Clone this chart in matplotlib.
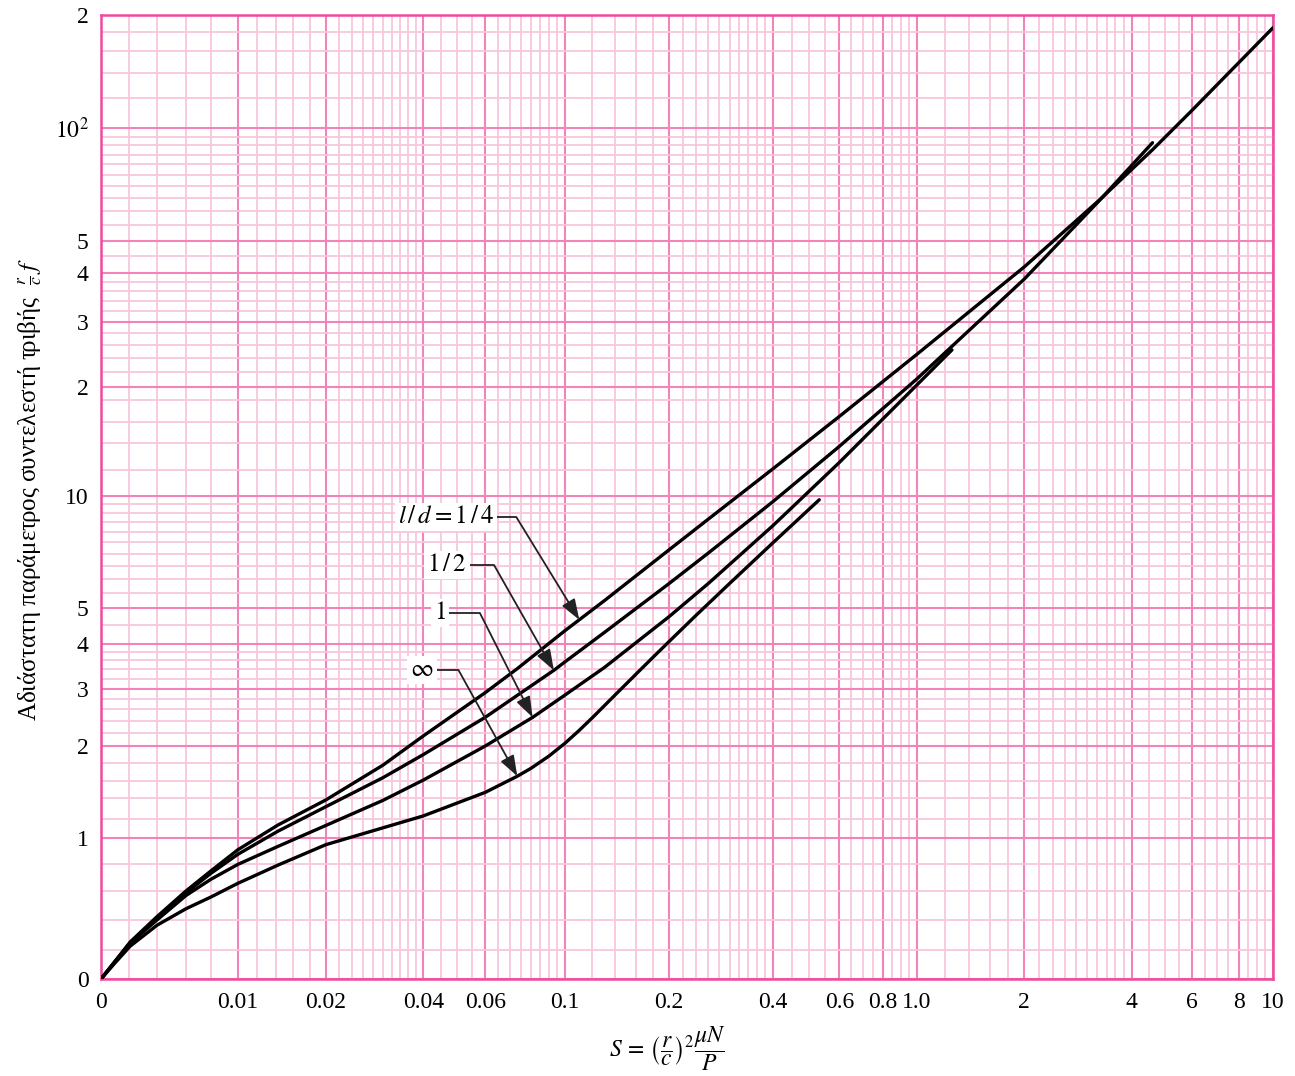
import numpy as np
import matplotlib
matplotlib.use("Agg")
import matplotlib.pyplot as plt

plt.rcParams["font.family"] = ["Liberation Serif", "DejaVu Serif"]
plt.rcParams["mathtext.fontset"] = "stix"

# Sommerfeld number S and friction variable (r/c) f along each l/d curve
s_quarter = [0, 0.0009, 0.00207, 0.004, 0.006, 0.008, 0.01, 0.0142, 0.02, 0.03, 0.04,
             0.06, 0.0736, 0.1, 0.13, 0.2, 0.261, 0.4, 0.6, 1.0, 2.0, 3.25, 4.6, 6.0, 10.0]
f_quarter = [0, 0.11, 0.247, 0.42, 0.598, 0.744, 0.905, 1.133, 1.384, 1.777, 2.15,
             2.93, 3.42, 4.34, 5.24, 7.16, 8.67, 12.07, 16.46, 24.5, 41.8, 64.3, 87.6,
             111.6, 185]

s_half = [0, 0.0009, 0.00207, 0.004, 0.006, 0.008, 0.01, 0.0142, 0.02, 0.03, 0.04,
          0.06, 0.093, 0.1, 0.13, 0.2, 0.261, 0.4, 0.6, 1.0, 2.0, 3.25, 4.6]
f_half = [0, 0.11, 0.243, 0.41, 0.583, 0.725, 0.87, 1.069, 1.316, 1.635, 1.898,
          2.457, 3.38, 3.565, 4.29, 5.82, 7.04, 9.62, 13.75, 21.04, 38.66, 64.1, 91.5]

s_one = [0, 0.0009, 0.00207, 0.004, 0.006, 0.008, 0.01, 0.0142, 0.02, 0.03, 0.04,
         0.06, 0.081, 0.1, 0.13, 0.2, 0.261, 0.4, 0.6, 1.0, 1.255]
f_one = [0, 0.108, 0.24, 0.40, 0.563, 0.68, 0.796, 0.932, 1.13, 1.378, 1.61,
         2.0, 2.455, 2.88, 3.44, 4.74, 5.84, 8.3, 12.53, 20.27, 25.2]

s_inf = [0, 0.0009, 0.00207, 0.004, 0.006, 0.008, 0.01, 0.0142, 0.02, 0.03, 0.04,
         0.06, 0.0735, 0.08, 0.09, 0.1, 0.11, 0.12, 0.14, 0.16, 0.18, 0.2, 0.24, 0.3,
         0.4, 0.531]
f_inf = [0, 0.1, 0.222, 0.36, 0.47, 0.552, 0.65, 0.79, 0.947, 1.104, 1.228,
         1.466, 1.652, 1.739, 1.88, 2.04, 2.238, 2.449, 2.889, 3.29, 3.673, 4.048,
         4.789, 5.827, 7.47, 9.74]

curve_labels = [r"$l\,/\,d = 1\,/\,4$", r"$1\,/\,2$", r"$1$", r"$\infty$"]
arrow_at_s = [0.11, 0.093, 0.081, 0.0735]

# Tick values and their printed labels
x_major = [0, 0.01, 0.02, 0.04, 0.06, 0.1, 0.2, 0.4, 0.6, 0.8, 1.0, 2, 4, 6, 8, 10]
x_major_labels = ["0", "0.01", "0.02", "0.04", "0.06", "0.1", "0.2", "0.4", "0.6",
                  "0.8", "1.0", "2", "4", "6", "8", "10"]
y_major = [0, 1, 2, 3, 4, 5, 10, 20, 30, 40, 50, 100, 200]
y_major_labels = ["0", "1", "2", "3", "4", "5", "10", "2", "3", "4", "5", r"$10^2$", "2"]


# ---- chart-paper scale: nearly linear close to zero, logarithmic further out ----
def _interp_ext(v, xp, fp):
    v = np.asarray(v, dtype=float)
    out = np.interp(v, xp, fp)
    lo_slope = (fp[1] - fp[0]) / (xp[1] - xp[0])
    hi_slope = (fp[-1] - fp[-2]) / (xp[-1] - xp[-2])
    out = np.where(v < xp[0], fp[0] + (v - xp[0]) * lo_slope, out)
    out = np.where(v > xp[-1], fp[-1] + (v - xp[-1]) * hi_slope, out)
    return out


def make_paper_scale(values, offsets, knee):
    values = np.asarray(values, dtype=float)
    h = np.arcsinh(values / knee)
    offsets = np.asarray(offsets, dtype=float)

    def forward(v):
        v = np.asarray(v, dtype=float)
        return _interp_ext(np.arcsinh(v / knee), h, offsets)

    def inverse(p):
        p = np.asarray(p, dtype=float)
        return knee * np.sinh(_interp_ext(p, offsets, h))

    return forward, inverse


x_scale_vals = [0, 0.002, 0.004, 0.006, 0.008, 0.01, 0.012, 0.014, 0.016, 0.018, 0.02,
                0.04, 0.06, 0.08, 0.1, 0.2, 0.4, 0.6, 0.8, 1, 2, 4, 6, 8, 10]
x_scale_pos = [0, 28, 56, 85, 110, 136.7, 156, 175, 192, 209, 225,
               322.3, 384.3, 429.7, 464, 568, 671.7, 738.3, 781.7, 815.7, 923.3,
               1030.7, 1091, 1138, 1172]
y_scale_vals = [0, 0.2, 0.4, 0.6, 0.8, 1, 1.2, 1.4, 1.6, 1.8, 2, 3, 4, 5, 10, 12, 14,
                16, 18, 20, 30, 40, 50, 100, 200]
y_scale_pos = [0, 29, 59, 88.3, 115, 140.7, 160, 180.7, 198, 215.7, 233, 289.7, 335.5,
               370.7, 483.5, 509, 535.7, 557.3, 579, 591.7, 657.3, 705.7, 738.3,
               850.7, 964]

fx = make_paper_scale(x_scale_vals, x_scale_pos, 0.003)
fy = make_paper_scale(y_scale_vals, y_scale_pos, 0.3)

# Minor rulings of the chart paper
x_minor = np.concatenate([
    np.arange(0.002, 0.0099, 0.002), np.arange(0.012, 0.0199, 0.002),
    np.arange(0.022, 0.0399, 0.002), [0.045, 0.05, 0.055],
    np.arange(0.065, 0.0999, 0.005), np.arange(0.12, 0.199, 0.02),
    np.arange(0.22, 0.399, 0.02), [0.45, 0.5, 0.55, 0.65, 0.7, 0.75, 0.85, 0.9, 0.95],
    np.arange(1.2, 1.99, 0.2), np.arange(2.2, 3.99, 0.2),
    [4.5, 5, 5.5, 6.5, 7, 7.5, 8.5, 9, 9.5]])
y_minor = np.concatenate([
    np.arange(0.2, 0.99, 0.2), np.arange(1.2, 1.99, 0.2), np.arange(2.2, 2.99, 0.2),
    np.arange(3.2, 3.99, 0.2), [4.5], np.arange(5.5, 9.99, 0.5),
    np.arange(12, 19.9, 2), np.arange(22, 29.9, 2), np.arange(32, 39.9, 2), [45],
    np.arange(55, 99, 5), np.arange(120, 199, 20)])

W, H = 1295, 1076
fig = plt.figure(figsize=(W / 100, H / 100), dpi=100)
ax = fig.add_axes([101 / W, 1 - 979 / H, (1273 - 101) / W, (979 - 15) / H])

ax.set_xscale("function", functions=fx)
ax.set_yscale("function", functions=fy)
ax.set_xlim(0, 10)
ax.set_ylim(0, 200)

PINK_SPINE = "#ef4a9e"
PINK_MAJOR = "#f284ba"
PINK_MINOR = "#f9c6de"

ax.set_xticks(x_major)
ax.set_xticklabels(x_major_labels)
ax.set_xticks(x_minor, minor=True)
ax.set_yticks(y_major)
ax.set_yticklabels(y_major_labels)
ax.set_yticks(y_minor, minor=True)
ax.tick_params(which="both", length=0)
ax.tick_params(axis="x", which="major", pad=9, labelsize=17)
ax.tick_params(axis="y", which="major", pad=9, labelsize=17)
ax.grid(which="minor", color=PINK_MINOR, lw=1.3)
ax.grid(which="major", color=PINK_MAJOR, lw=1.5)
ax.set_axisbelow(True)
for sp in ax.spines.values():
    sp.set_color(PINK_SPINE)
    sp.set_linewidth(1.8)

curves = [(s_quarter, f_quarter), (s_half, f_half), (s_one, f_one), (s_inf, f_inf)]
for s, f in curves:
    ax.plot(s, f, color="black", lw=2.4, solid_capstyle="round",
            solid_joinstyle="round", zorder=3)


def value_on_curve(s, f, s0):
    s = np.asarray(s[1:], float)
    f = np.asarray(f[1:], float)
    return float(np.exp(np.interp(np.log(s0), np.log(s), np.log(f))))


# Curve labels with elbow leaders
label_pix = [(446, 517), (447, 565), (440, 613), (422, 670)]
leader_angle = [121.5, 119.6, 116.8, 119.0]
for (s, f), text, s0, (px, py), ang in zip(curves, curve_labels, arrow_at_s,
                                          label_pix, leader_angle):
    tip = (s0, value_on_curve(s, f, s0))
    ax.annotate(text, xy=tip, xycoords="data",
                xytext=(px, H - py), textcoords="figure pixels",
                ha="center", va="center", fontsize=18,
                bbox=dict(boxstyle="square,pad=0.12", fc="white", ec="none"),
                arrowprops=dict(arrowstyle="-|>,head_length=0.7,head_width=0.25",
                                color="#222222", lw=1.3, shrinkA=0, shrinkB=0,
                                connectionstyle=f"angle,angleA=0,angleB={ang},rad=0"),
                zorder=4)

fig.text(30 / W, 1 - 490 / H,
         r"Αδιάστατη παράμετρος συντελεστή τριβής  $\frac{r}{c}\,f$",
         rotation=90, ha="center", va="center", fontsize=18)
fig.text(667 / W, 3 / H,
         r"$S \,=\, \left(\dfrac{r}{c}\right)^{2}\dfrac{\mu N}{P}$",
         ha="center", va="bottom", fontsize=17)

fig.savefig("out.png", dpi=100)
